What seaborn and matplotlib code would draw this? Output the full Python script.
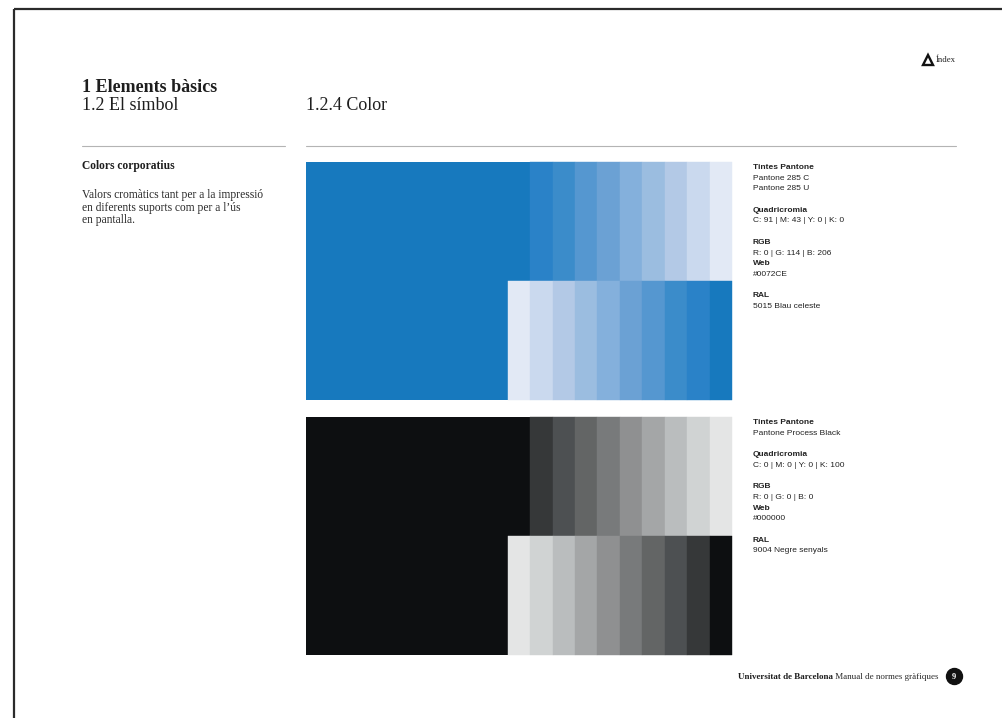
import matplotlib
matplotlib.use("Agg")
import matplotlib.pyplot as plt
import seaborn as sns

sns.set_style("white")
plt.rcParams['font.family'] = ['Liberation Serif', 'DejaVu Serif']

# tint levels of each swatch (percent of the full colour)
tint_levels = [100, 90, 80, 70, 60, 50, 40, 30, 20, 10]
blue_tints = ['#1779be', '#2a82c8', '#3b8cca', '#5597d0', '#6ba1d4',
              '#84b0dc', '#9bbde0', '#b3c9e6', '#cad9ee', '#e2e9f5']
grey_tints = ['#0d0f11', '#363839', '#4d5052', '#636565', '#787a7b',
              '#8f9091', '#a4a6a7', '#babdbe', '#d0d3d3', '#e4e5e5']
top_row = [90, 80, 70, 60, 50, 40, 30, 20, 10]
bottom_row = [10, 20, 30, 40, 50, 60, 70, 80, 90, 100]

blue_info = ["*Tintes Pantone", "Pantone 285 C", "Pantone 285 U", "",
             "*Quadricromia", "C: 91 | M: 43 | Y: 0 | K: 0", "",
             "*RGB", "R: 0 | G: 114 | B: 206", "*Web", "#0072CE", "",
             "*RAL", "5015 Blau celeste"]
black_info = ["*Tintes Pantone", "Pantone Process Black", "",
              "*Quadricromia", "C: 0 | M: 0 | Y: 0 | K: 100", "",
              "*RGB", "R: 0 | G: 0 | B: 0", "*Web", "#000000", "",
              "*RAL", "9004 Negre senyals"]

fig = plt.figure(figsize=(10.02, 7.18), dpi=100)
ax = fig.add_axes([0, 0, 1, 1])
ax.set_xlim(0, 1002)
ax.set_ylim(718, 0)
ax.axis('off')

# page frame
ax.plot([14, 1002], [9, 9], color='#2b2b2b', lw=1.6, solid_capstyle='butt')
ax.plot([14, 14], [9, 718], color='#2b2b2b', lw=1.6, solid_capstyle='butt')

# headings
ax.text(82, 92, "1 Elements bàsics", fontsize=13, fontweight='bold', color='#1e1e1e')
ax.text(82, 109.5, "1.2 El símbol", fontsize=13, color='#1e1e1e')
ax.text(306, 109.5, "1.2.4 Color", fontsize=13, color='#1e1e1e')
ax.plot([82, 285], [146, 146], color='#b4b4b4', lw=0.8)
ax.plot([306, 956], [146, 146], color='#b4b4b4', lw=0.8)

ax.text(82, 169, "Colors corporatius", fontsize=8.3, fontweight='bold', color='#1e1e1e')
for i, line in enumerate(["Valors cromàtics tant per a la impressió",
                          "en diferents suports com per a l’ús",
                          "en pantalla."]):
    ax.text(82, 198 + i * 12.7, line, fontsize=8.3, color='#2a2a2a')

# index link
ax.plot([928], [59.5], marker='^', ms=6.5, mfc='white', mec='#111111', mew=1.7)
ax.text(936, 62.5, "Índex", fontsize=6.3, color='#222222')


def swatch_block(top, palette, info):
    left, right = 306, 732
    w = (right - left) / 19
    mid = top + 118.5
    bottom = mid + 119
    colors = dict(zip(tint_levels, palette))
    # full colour area
    ax.bar(left, bottom - top, width=right - 9 * w - left, bottom=top,
           align='edge', color=colors[100], lw=0)
    xs = [right - 9 * w + i * w for i in range(len(top_row))]
    ax.bar(xs, mid - top, width=w, bottom=top, align='edge',
           color=[colors[t] for t in top_row], lw=0.3,
           edgecolor=[colors[t] for t in top_row])
    xs = [right - 10 * w + i * w for i in range(len(bottom_row))]
    ax.bar(xs, bottom - mid, width=w, bottom=mid, align='edge',
           color=[colors[t] for t in bottom_row], lw=0.3,
           edgecolor=[colors[t] for t in bottom_row])
    for i, line in enumerate(info):
        if not line:
            continue
        bold = line.startswith('*')
        ax.text(753, top + 7 + i * 10.7, line.lstrip('*'), fontsize=6,
                family=['Liberation Sans', 'DejaVu Sans'],
                fontweight='bold' if bold else 'normal', color='#222222')


swatch_block(162, blue_tints, blue_info)
swatch_block(417, grey_tints, black_info)

# footer
t = ax.text(939, 679, " Manual de normes gràfiques", fontsize=6.5, ha='right', color='#2a2a2a')
fig.canvas.draw()
bb = t.get_window_extent()
x0 = ax.transData.inverted().transform((bb.x0, bb.y0))[0]
ax.text(x0, 679, "Universitat de Barcelona", fontsize=6.5, fontweight='bold',
        ha='right', color='#1e1e1e')
ax.plot([954], [676], marker='o', ms=11.5, color='#111111')
ax.text(954, 679, "9", fontsize=6, fontweight='bold', color='white',
        ha='center', va='baseline')

fig.savefig("out.png", dpi=100, facecolor='white')
